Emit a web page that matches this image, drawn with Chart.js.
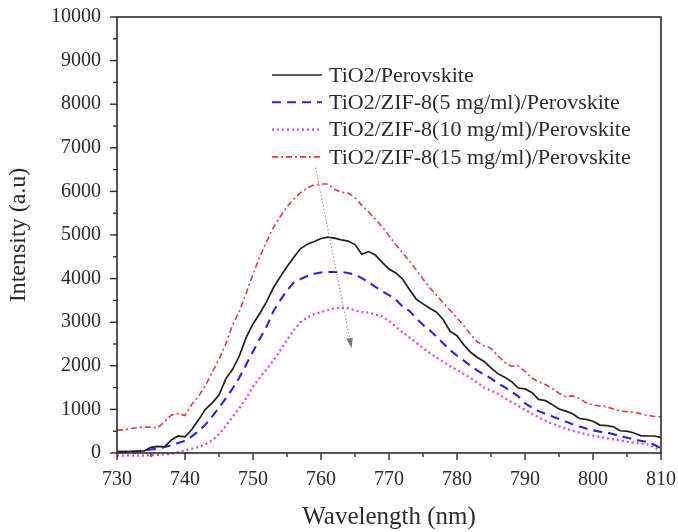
<!DOCTYPE html>
<html>
<head>
<meta charset="utf-8">
<script src="https://cdn.jsdelivr.net/npm/chart.js@4/dist/chart.umd.min.js"></script>
<style>
  html, body { margin: 0; padding: 0; background: #fff; }
  #wrap { width: 678px; height: 532px; }
</style>
</head>
<body>
<div id="wrap"><canvas id="myChart"></canvas></div>
<script>
// wavelength axis, 730..810 nm, 1 nm steps
const wavelengths = [];
for (let w = 730; w <= 810; w++) wavelengths.push(w);

const seriesNames = [
  'TiO2/Perovskite',
  'TiO2/ZIF-8(5 mg/ml)/Perovskite',
  'TiO2/ZIF-8(10 mg/ml)/Perovskite',
  'TiO2/ZIF-8(15 mg/ml)/Perovskite'
];

const tio2 = [30, 30, 40, 40, 50, 130, 150, 140, 300, 390,
  370, 540, 760, 1000, 1150, 1330, 1700, 1920, 2230, 2650,
  2960, 3200, 3470, 3790, 4040, 4270, 4490, 4690, 4790, 4850,
  4920, 4950, 4930, 4890, 4860, 4780, 4560, 4620, 4540, 4370,
  4220, 4130, 3990, 3750, 3530, 3420, 3320, 3230, 3050, 2790,
  2690, 2480, 2310, 2190, 2100, 1950, 1820, 1740, 1640, 1490,
  1470, 1390, 1230, 1200, 1110, 1010, 960, 900, 790, 770,
  730, 640, 630, 600, 510, 500, 460, 400, 390, 390, 360];

const zif5 = [30, 30, 30, 40, 60, 80, 100, 140, 180, 230,
  280, 380, 500, 650, 840, 1040, 1250, 1480, 1730, 2030,
  2330, 2620, 2900, 3250, 3500, 3730, 3910, 3990, 4060, 4110,
  4140, 4150, 4150, 4150, 4130, 4090, 4010, 3920, 3810, 3710,
  3620, 3520, 3360, 3260, 3090, 2940, 2810, 2670, 2510, 2360,
  2230, 2120, 2000, 1890, 1800, 1710, 1600, 1510, 1410, 1300,
  1140, 1040, 960, 900, 840, 780, 720, 660, 610, 560,
  520, 490, 470, 430, 390, 350, 310, 280, 250, 190, 110];

const zif10 = [-60, -60, -60, -60, -60, -50, -40, -30, -20, 20,
  60, 100, 140, 200, 290, 430, 620, 830, 1030, 1260,
  1520, 1730, 1920, 2120, 2350, 2590, 2820, 3000, 3110, 3190,
  3230, 3280, 3320, 3330, 3320, 3270, 3230, 3220, 3180, 3130,
  3030, 2900, 2770, 2650, 2530, 2410, 2290, 2190, 2090, 1990,
  1900, 1810, 1720, 1610, 1500, 1430, 1360, 1260, 1170, 1080,
  990, 900, 820, 740, 670, 610, 560, 510, 470, 430,
  400, 370, 340, 310, 290, 260, 240, 220, 200, 130, 50];

const zif15 = [530, 530, 560, 580, 600, 590, 580, 720, 870, 900,
  860, 1120, 1300, 1550, 1850, 2150, 2500, 2940, 3250, 3670,
  4100, 4500, 4850, 5170, 5420, 5650, 5830, 5970, 6080, 6150,
  6170, 6170, 6050, 5980, 5960, 5860, 5680, 5530, 5360, 5190,
  4980, 4780, 4590, 4400, 4200, 3990, 3790, 3620, 3440, 3270,
  3100, 2920, 2720, 2550, 2460, 2400, 2230, 2080, 1990, 2000,
  1870, 1720, 1630, 1570, 1480, 1370, 1290, 1310, 1250, 1150,
  1100, 1080, 1060, 1010, 960, 950, 940, 900, 860, 840, 830];

const xTicks = [730, 740, 750, 760, 770, 780, 790, 800, 810];
const yTicks = [0, 1000, 2000, 3000, 4000, 5000, 6000, 7000, 8000, 9000, 10000];

// trend arrow (wavelength, intensity)
const arrowFrom = [759.2, 6550];
const arrowTo = [764.5, 2400];

const FONT = "'Liberation Serif', 'DejaVu Serif', serif";
const INK = '#2b2b2b';

function pts(arr) {
  return wavelengths.map((w, i) => ({ x: w, y: arr[i] }));
}

const styles = [
  { color: '#1e1e1e', width: 1.7, dash: [] },
  { color: '#2424e6', width: 2.1, dash: [9, 6] },
  { color: '#e640e6', width: 2.3, dash: [2, 3] },
  { color: '#e83a3a', width: 1.6, dash: [6, 3, 2, 3] }
];

const seriesData = [tio2, zif5, zif10, zif15];

const datasets = seriesData.map((arr, i) => ({
  label: seriesNames[i],
  data: pts(arr),
  borderColor: styles[i].color,
  borderWidth: styles[i].width,
  borderDash: styles[i].dash,
  pointRadius: 0,
  tension: 0,
  fill: false,
  clip: { left: 0, top: 0, right: 2, bottom: 4 }
}));

function line(ctx, x1, y1, x2, y2) {
  ctx.beginPath();
  ctx.moveTo(x1, y1);
  ctx.lineTo(x2, y2);
  ctx.stroke();
}

const framePlugin = {
  id: 'frame',
  afterDraw(chart) {
    const { ctx, chartArea: a, scales: { x, y } } = chart;
    ctx.save();
    ctx.strokeStyle = INK;
    ctx.lineWidth = 1.6;
    ctx.strokeRect(a.left, a.top, a.right - a.left, a.bottom - a.top);

    // ticks, major and minor
    ctx.lineWidth = 1.4;
    for (let v = xTicks[0]; v <= xTicks[xTicks.length - 1]; v += 5) {
      const px = x.getPixelForValue(v);
      const len = (v % 10 === 0) ? 7 : 4;
      line(ctx, px, a.bottom, px, a.bottom + len);
    }
    for (let v = yTicks[0]; v <= yTicks[yTicks.length - 1]; v += 500) {
      const py = y.getPixelForValue(v);
      const len = (v % 1000 === 0) ? 7 : 4;
      line(ctx, a.left, py, a.left - len, py);
    }

    // arrow
    const x1 = x.getPixelForValue(arrowFrom[0]), y1 = y.getPixelForValue(arrowFrom[1]);
    const x2 = x.getPixelForValue(arrowTo[0]), y2 = y.getPixelForValue(arrowTo[1]);
    const ang = Math.atan2(y2 - y1, x2 - x1);
    ctx.strokeStyle = '#9a9a9a';
    ctx.lineWidth = 1.2;
    ctx.setLineDash([1.5, 2]);
    line(ctx, x1, y1, x2 - 9 * Math.cos(ang), y2 - 9 * Math.sin(ang));
    ctx.setLineDash([]);
    ctx.fillStyle = '#777';
    ctx.beginPath();
    ctx.moveTo(x2, y2);
    ctx.lineTo(x2 - 11 * Math.cos(ang - 0.3), y2 - 11 * Math.sin(ang - 0.3));
    ctx.lineTo(x2 - 11 * Math.cos(ang + 0.3), y2 - 11 * Math.sin(ang + 0.3));
    ctx.closePath();
    ctx.fill();

    // legend inside the plot
    const lx = 272, ly = 75, gap = 27.3, sample = 50;
    ctx.font = '22px ' + FONT;
    ctx.textBaseline = 'middle';
    chart.data.datasets.forEach((ds, i) => {
      const yy = ly + i * gap;
      ctx.strokeStyle = ds.borderColor;
      ctx.lineWidth = ds.borderWidth;
      ctx.setLineDash(ds.borderDash);
      line(ctx, lx, yy, lx + sample, yy);
      ctx.setLineDash([]);
      ctx.fillStyle = INK;
      ctx.fillText(ds.label, lx + sample + 7, yy + 1);
    });
    ctx.restore();
  }
};

const ctx = document.getElementById('myChart').getContext('2d');
new Chart(ctx, {
  type: 'line',
  data: { datasets: datasets },
  options: {
    responsive: true,
    maintainAspectRatio: false,
    animation: false,
    layout: { padding: { top: 17, right: 17, left: 0, bottom: 0 } },
    plugins: {
      legend: { display: false },
      tooltip: { enabled: false }
    },
    scales: {
      x: {
        type: 'linear',
        min: xTicks[0],
        max: xTicks[xTicks.length - 1],
        grid: { display: false, drawTicks: false },
        border: { display: false },
        afterBuildTicks: s => { s.ticks = xTicks.map(v => ({ value: v })); },
        afterFit: s => { s.height = 79; s.paddingRight = 0; s.paddingLeft = 0; },
        ticks: {
          padding: 15,
          maxRotation: 0,
          autoSkip: false,
          color: INK,
          font: { family: FONT, size: 20 },
          callback: v => String(v)
        },
        title: {
          display: true,
          text: 'Wavelength (nm)',
          color: INK,
          padding: { top: 4, bottom: 0 },
          font: { family: FONT, size: 25 }
        }
      },
      y: {
        min: yTicks[0],
        max: yTicks[yTicks.length - 1],
        grid: { display: false, drawTicks: false },
        border: { display: false },
        afterBuildTicks: s => { s.ticks = yTicks.map(v => ({ value: v })); },
        afterFit: s => { s.width = 117; s.paddingTop = 0; s.paddingBottom = 0; },
        ticks: {
          padding: 16,
          autoSkip: false,
          color: INK,
          font: { family: FONT, size: 20 },
          callback: v => String(v)
        },
        title: {
          display: true,
          text: 'Intensity (a.u)',
          color: INK,
          padding: { top: 4, bottom: 0 },
          font: { family: FONT, size: 24 }
        }
      }
    }
  },
  plugins: [framePlugin]
});
</script>
</body>
</html>
